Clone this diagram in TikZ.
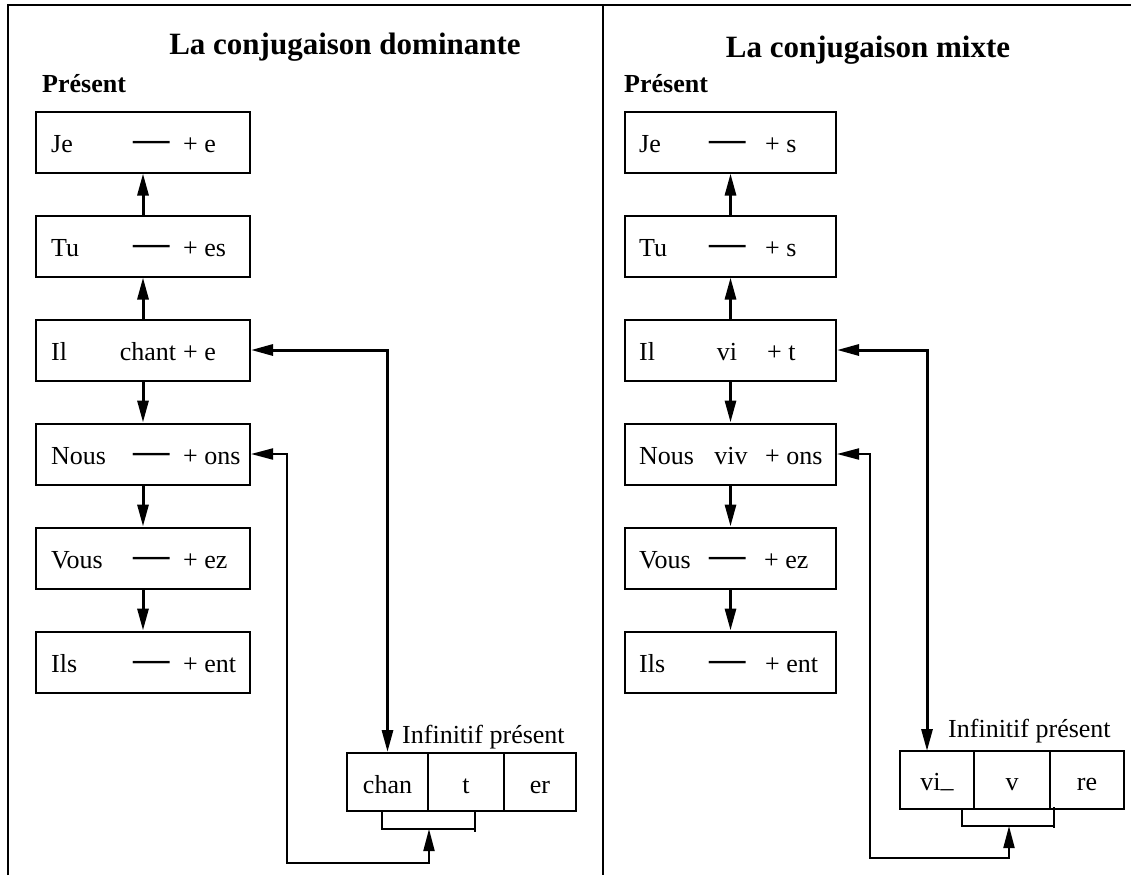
\documentclass[tikz,border=0pt]{standalone}
\usepackage{fontspec}
\setmainfont{Liberation Serif}
\usetikzlibrary{arrows.meta}
% a blank stem, drawn as a stretched dash
\newcommand\blankstem{\raisebox{-0.05em}{\scalebox{1.4}[1.8]{—}}}
\begin{document}
\begin{tikzpicture}[x=1pt,y=-1pt,
  body/.style={font=\fontsize{26}{30}\selectfont},
  headline/.style={font=\fontsize{31}{36}\selectfont\bfseries, inner sep=0pt, anchor=base},
  tense/.style={font=\fontsize{26}{30}\selectfont\bfseries, inner sep=0pt, anchor=base west},
  conjbox/.style={draw, line width=2pt, minimum width=214pt, minimum height=61pt, inner sep=0pt},
  pron/.style={body, inner sep=0pt, anchor=base west},
  stem/.style={body, inner sep=0pt, anchor=base},
  ending/.style={body, inner sep=0pt, anchor=base west},
  cell/.style={body, draw, line width=2pt, minimum height=58pt, inner sep=0pt,
               text height=24pt, text depth=2pt},
  caption/.style={body, inner sep=0pt, anchor=base west},
  tipA/.tip={Triangle[length=22pt,width=11pt]},
  chain/.style={-tipA, line width=3pt},
  linkthick/.style={tipA-tipA, line width=3pt},
  linkthin/.style={tipA-tipA, line width=2pt},
  bracket/.style={line width=2pt},
  frame/.style={line width=2pt}]
\useasboundingbox (0,0) rectangle (1131,875);

% frame and panel divider
\draw[frame] (8,875) -- (8,5) -- (1131,5);
\draw[frame] (603,5) -- (603,875);

% ---------- left panel ----------
\node[headline] (LTitle) at (345,55) {La conjugaison dominante};
\node[tense] (LTense) at (42,92) {Présent};

\node[conjbox] (LJe)   at (143,142) {};
\node[conjbox] (LTu)   at (143,246) {};
\node[conjbox] (LIl)   at (143,350) {};
\node[conjbox] (LNous) at (143,454) {};
\node[conjbox] (LVous) at (143,558) {};
\node[conjbox] (LIls)  at (143,662) {};

\node[pron] (LJeP)   at (51,152) {Je};
\node[pron] (LTuP)   at (51,256) {Tu};
\node[pron] (LIlP)   at (51,360) {Il};
\node[pron] (LNousP) at (51,464) {Nous};
\node[pron] (LVousP) at (51,568) {Vous};
\node[pron] (LIlsP)  at (51,672) {Ils};

\node[stem] (LJeS)   at (152,152) {\blankstem};
\node[stem] (LTuS)   at (152,256) {\blankstem};
\node[stem] (LIlS)   at (148,360) {chant};
\node[stem] (LNousS) at (152,464) {\blankstem};
\node[stem] (LVousS) at (152,568) {\blankstem};
\node[stem] (LIlsS)  at (152,672) {\blankstem};

\node[ending] (LJeE)   at (183,152) {+ e};
\node[ending] (LTuE)   at (183,256) {+ es};
\node[ending] (LIlE)   at (183,360) {+ e};
\node[ending] (LNousE) at (183,464) {+ ons};
\node[ending] (LVousE) at (183,568) {+ ez};
\node[ending] (LIlsE)  at (183,672) {+ ent};

\draw[chain] (LTu.north) -- (LJe.south);
\draw[chain] (LIl.north) -- (LTu.south);
\draw[chain] (LIl.south) -- (LNous.north);
\draw[chain] (LNous.south) -- (LVous.north);
\draw[chain] (LVous.south) -- (LIls.north);

\node[caption] (LInf) at (402,743) {Infinitif présent};
\node[cell, minimum width=81pt] (LChan) at (387.5,782) {chan};
\node[cell, minimum width=76pt] (LT)    at (466,782)   {t};
\node[cell, minimum width=72pt] (LEr)   at (540,782)   {er};

\draw[bracket] (382,812) -- (382,829) -- (475,829);
\draw[bracket] (475,812) -- (475,832);

\coordinate (LLoop) at (287,863);
\coordinate (LBrk) at (429,829);
\draw[linkthick] (LIl.east) -| (LChan.north);
\draw[linkthin] (LNous.east) -| (LLoop) -| (LBrk);

% ---------- right panel ----------
\node[headline] (RTitle) at (868,57) {La conjugaison mixte};
\node[tense] (RTense) at (624,92) {Présent};

\node[conjbox, minimum width=211pt] (RJe)   at (730.5,142) {};
\node[conjbox, minimum width=211pt] (RTu)   at (730.5,246) {};
\node[conjbox, minimum width=211pt] (RIl)   at (730.5,350) {};
\node[conjbox, minimum width=211pt] (RNous) at (730.5,454) {};
\node[conjbox, minimum width=211pt] (RVous) at (730.5,558) {};
\node[conjbox, minimum width=211pt] (RIls)  at (730.5,662) {};

\node[pron] (RJeP)   at (639,152) {Je};
\node[pron] (RTuP)   at (639,256) {Tu};
\node[pron] (RIlP)   at (639,360) {Il};
\node[pron] (RNousP) at (639,464) {Nous};
\node[pron] (RVousP) at (639,568) {Vous};
\node[pron] (RIlsP)  at (639,672) {Ils};

\node[stem] (RJeS)   at (728,152) {\blankstem};
\node[stem] (RTuS)   at (728,256) {\blankstem};
\node[stem] (RIlS)   at (727,360) {vi};
\node[stem] (RNousS) at (731,464) {viv};
\node[stem] (RVousS) at (728,568) {\blankstem};
\node[stem] (RIlsS)  at (728,672) {\blankstem};

\node[ending] (RJeE)   at (765,152) {+ s};
\node[ending] (RTuE)   at (765,256) {+ s};
\node[ending] (RIlE)   at (767,360) {+ t};
\node[ending] (RNousE) at (765,464) {+ ons};
\node[ending] (RVousE) at (764,568) {+ ez};
\node[ending] (RIlsE)  at (765,672) {+ ent};

\draw[chain] (RTu.north) -- (RJe.south);
\draw[chain] (RIl.north) -- (RTu.south);
\draw[chain] (RIl.south) -- (RNous.north);
\draw[chain] (RNous.south) -- (RVous.north);
\draw[chain] (RVous.south) -- (RIls.north);

\node[caption] (RInf) at (948,737) {Infinitif présent};
\node[cell, minimum width=74pt] (RVi) at (937,779.5)  {vi\raisebox{0.12em}{\_}};
\node[cell, minimum width=76pt] (RV)  at (1012,779.5) {v};
\node[cell, minimum width=74pt] (RRe) at (1087,779.5) {re};

\draw[bracket] (962,809) -- (962,826) -- (1054,826);
\draw[bracket] (1054,807) -- (1054,828);

\coordinate (RDrop) at (927,751);
\coordinate (RLoop) at (870,858);
\coordinate (RBrk) at (1009,826);
\draw[linkthick] (RIl.east) -| (RDrop);
\draw[linkthin] (RNous.east) -| (RLoop) -| (RBrk);
\end{tikzpicture}
\end{document}
